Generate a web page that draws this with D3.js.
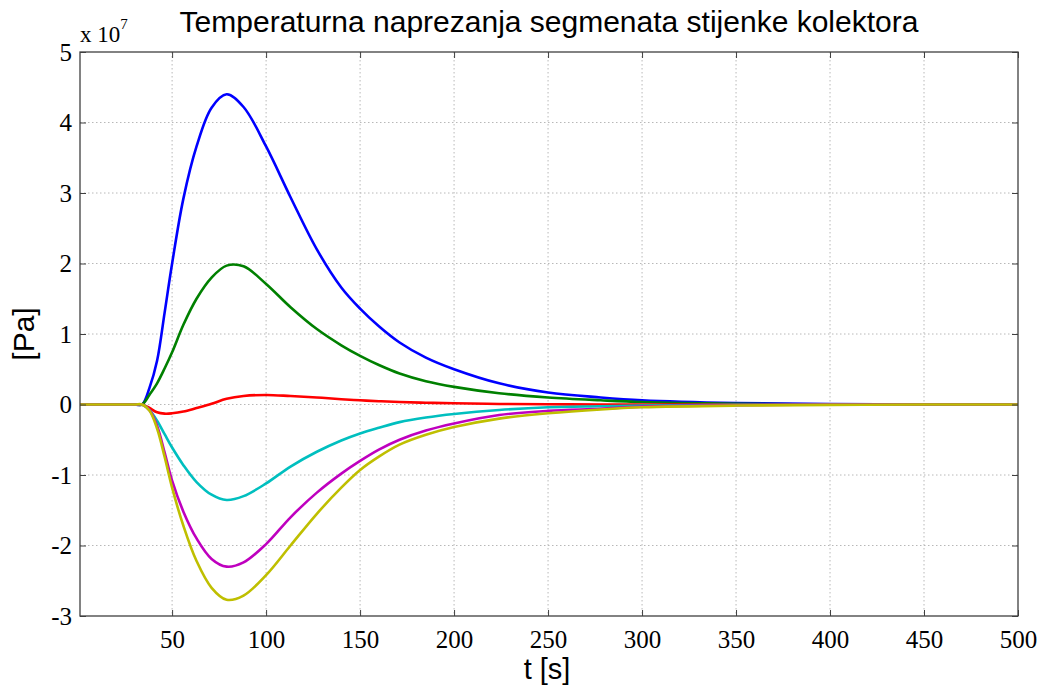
<!DOCTYPE html>
<html>
<head>
<meta charset="utf-8">
<script src="https://cdn.jsdelivr.net/npm/d3@7"></script>
<style>
  body { margin: 0; background: #fff; }
  .grid line { stroke: #b8b8b8; stroke-dasharray: 1.5,2.5; }
</style>
</head>
<body>
<div id="chart"></div>
<script>
// Data (stress in units of 1e7 Pa)
const time = [1, 30, 34, 38, 42, 46, 50, 56, 63, 71, 79, 88, 100, 113, 127, 140, 150, 160, 171, 185, 200, 224, 250, 278, 300, 350, 400, 450, 500];

const blue    = [0, 0, 0, 0.24, 0.62, 1.30, 2.0, 2.92, 3.66, 4.21, 4.40, 4.22, 3.66, 2.94, 2.2, 1.66, 1.36, 1.11, 0.88, 0.665, 0.50, 0.30, 0.17, 0.10, 0.06, 0.02, 0.005, 0, 0];
const green   = [0, 0, 0, 0.14, 0.30, 0.51, 0.74, 1.13, 1.50, 1.80, 1.97, 1.96, 1.71, 1.38, 1.07, 0.84, 0.69, 0.56, 0.44, 0.33, 0.25, 0.16, 0.10, 0.06, 0.035, 0.01, 0, 0, 0];
const red     = [0, 0, 0, -0.05, -0.11, -0.13, -0.125, -0.10, -0.05, 0.01, 0.08, 0.12, 0.135, 0.12, 0.10, 0.075, 0.06, 0.047, 0.035, 0.025, 0.017, 0.008, 0.004, 0, 0, 0, 0, 0, 0];
const cyan    = [0, 0, 0, -0.08, -0.23, -0.42, -0.61, -0.86, -1.10, -1.28, -1.355, -1.30, -1.12, -0.88, -0.67, -0.51, -0.41, -0.33, -0.25, -0.185, -0.135, -0.078, -0.04, -0.025, -0.015, -0.005, 0, 0, 0];
const magenta = [0, 0, 0, -0.08, -0.30, -0.68, -1.08, -1.52, -1.90, -2.19, -2.30, -2.24, -1.98, -1.60, -1.25, -0.98, -0.80, -0.64, -0.50, -0.37, -0.27, -0.15, -0.09, -0.06, -0.03, -0.01, 0, 0, 0];
const yellow  = [0, 0, 0, -0.09, -0.34, -0.74, -1.18, -1.72, -2.22, -2.60, -2.77, -2.71, -2.42, -2.0, -1.55, -1.18, -0.93, -0.74, -0.57, -0.43, -0.32, -0.20, -0.125, -0.07, -0.04, -0.015, -0.005, 0, 0];

const seriesList = [
  { name: "blue", values: blue, color: "#0000ff" },
  { name: "green", values: green, color: "#008000" },
  { name: "red", values: red, color: "#ff0000" },
  { name: "cyan", values: cyan, color: "#00bfbf" },
  { name: "magenta", values: magenta, color: "#bf00bf" },
  { name: "yellow", values: yellow, color: "#bfbf00" }
];

const xTicks = [50, 100, 150, 200, 250, 300, 350, 400, 450, 500];
const yTicks = [-3, -2, -1, 0, 1, 2, 3, 4, 5];

const W = 1042, H = 687;
const margin = { top: 52, right: 24, bottom: 71, left: 80 };
const width = W - margin.left - margin.right;
const height = H - margin.top - margin.bottom;

const serif = "'Liberation Serif', 'Times New Roman', serif";
const sans = "'Liberation Sans', Arial, sans-serif";

const svg = d3.select("#chart").append("svg").attr("width", W).attr("height", H);
const g = svg.append("g").attr("transform", `translate(${margin.left},${margin.top})`);

const x = d3.scaleLinear().domain([1, 500]).range([0, width]);
const y = d3.scaleLinear().domain([-3, 5]).range([height, 0]);

// Grid
g.append("g").attr("class", "grid")
  .selectAll("line").data(xTicks.slice(0, -1)).enter().append("line")
  .attr("x1", d => x(d)).attr("x2", d => x(d)).attr("y1", 0).attr("y2", height);
g.append("g").attr("class", "grid")
  .selectAll("line").data(yTicks.slice(1, -1)).enter().append("line")
  .attr("x1", 0).attr("x2", width).attr("y1", d => y(d)).attr("y2", d => y(d));

// Lines
const line = d3.line()
  .x((d, i) => x(time[i]))
  .y(d => y(d))
  .curve(d3.curveCatmullRom.alpha(0.5));

seriesList.forEach(s => {
  g.append("path").datum(s.values)
    .attr("fill", "none").attr("stroke", s.color).attr("stroke-width", 2.6)
    .attr("stroke-linejoin", "round")
    .attr("d", line);
});

// Axes (inward ticks)
const axisColor = "#404040";
function styleAxis(sel) {
  sel.select(".domain").remove();
  sel.selectAll(".tick line").attr("stroke", axisColor);
  sel.selectAll(".tick text").style("font-family", serif).style("font-size", "25px").attr("fill", "#000");
}
g.append("g").attr("transform", `translate(0,${height})`)
  .call(d3.axisBottom(x).tickValues(xTicks).tickSize(-6).tickPadding(14).tickFormat(d => String(d)))
  .call(styleAxis);
g.append("g")
  .call(d3.axisTop(x).tickValues(xTicks).tickSize(-6).tickFormat(""))
  .call(styleAxis);
g.append("g")
  .call(d3.axisLeft(y).tickValues(yTicks).tickSize(-6).tickPadding(8).tickFormat(d => String(d)))
  .call(styleAxis);
g.append("g").attr("transform", `translate(${width},0)`)
  .call(d3.axisRight(y).tickValues(yTicks).tickSize(-6).tickFormat(""))
  .call(styleAxis);

// Frame
g.append("rect").attr("x", 0).attr("y", 0).attr("width", width).attr("height", height)
  .attr("fill", "none").attr("stroke", axisColor).attr("stroke-width", 1.3);

// Exponent label
const expo = svg.append("text").attr("x", 80).attr("y", 42)
  .style("font-family", serif).style("font-size", "23px");
expo.append("tspan").text("x 10");
expo.append("tspan").attr("dy", -13).style("font-size", "15px").text("7");

// Title and axis labels
svg.append("text").attr("x", 549).attr("y", 32).attr("text-anchor", "middle")
  .style("font-family", sans).style("font-size", "30px")
  .text("Temperaturna naprezanja segmenata stijenke kolektora");
svg.append("text").attr("x", 547).attr("y", 679).attr("text-anchor", "middle")
  .style("font-family", sans).style("font-size", "29px")
  .text("t [s]");
svg.append("text").attr("transform", `translate(34,${margin.top + y(1)}) rotate(-90)`)
  .attr("text-anchor", "middle")
  .style("font-family", sans).style("font-size", "30px")
  .text("[Pa]");
</script>
</body>
</html>
